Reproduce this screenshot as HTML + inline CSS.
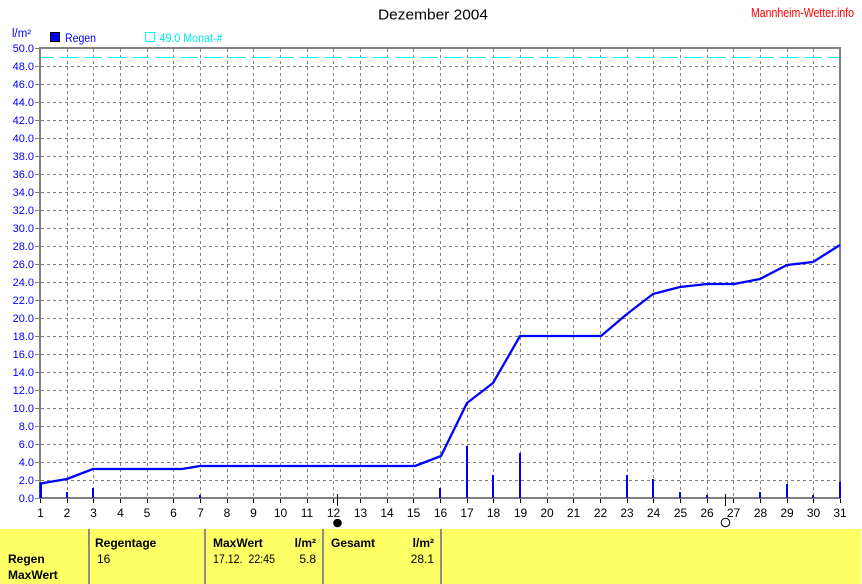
<!DOCTYPE html>
<html><head><meta charset="utf-8"><style>
html,body{margin:0;padding:0;background:#fff;}
svg{display:block;font-family:"Liberation Sans",Arial,sans-serif;}
</style></head><body>
<svg width="862" height="584" viewBox="0 0 862 584" xmlns="http://www.w3.org/2000/svg">
<rect x="0" y="0" width="862" height="584" fill="#fff"/>
<!-- title -->
<text x="378" y="19.5" font-size="15" fill="#000" textLength="110" lengthAdjust="spacingAndGlyphs">Dezember 2004</text>
<text x="751" y="17" font-size="13" fill="#ff0000" textLength="103" lengthAdjust="spacingAndGlyphs">Mannheim-Wetter.info</text>
<!-- legend -->
<text x="12" y="37" font-size="11.5" fill="#0000ff" textLength="19" lengthAdjust="spacingAndGlyphs">l/m²</text>
<rect x="50.5" y="32.5" width="9" height="9" fill="#0000ff" stroke="#000" stroke-width="1"/>
<text x="65" y="42" font-size="12" fill="#0000ff" textLength="31" lengthAdjust="spacingAndGlyphs">Regen</text>
<rect x="145.5" y="32.5" width="9" height="9" fill="none" stroke="#00ffff" stroke-width="1"/>
<text x="159.5" y="42" font-size="12" fill="#00e8e8" textLength="63" lengthAdjust="spacingAndGlyphs">49.0 Monat-#</text>

<!-- grid -->
<g stroke="#808080" stroke-width="1" stroke-dasharray="3,3" fill="none">
<path d="M41 66.5H839M41 84.5H839M41 102.5H839M41 120.5H839M41 138.5H839M41 156.5H839M41 174.5H839M41 192.5H839M41 210.5H839M41 228.5H839M41 246.5H839M41 264.5H839M41 282.5H839M41 300.5H839M41 318.5H839M41 336.5H839M41 354.5H839M41 372.5H839M41 390.5H839M41 408.5H839M41 426.5H839M41 444.5H839M41 462.5H839M41 480.5H839"/>
<path d="M67.5 49V497M93.5 49V497M120.5 49V497M147.5 49V497M173.5 49V497M200.5 49V497M227.5 49V497M253.5 49V497M280.5 49V497M307.5 49V497M333.5 49V497M360.5 49V497M387.5 49V497M413.5 49V497M440.5 49V497M467.5 49V497M493.5 49V497M520.5 49V497M547.5 49V497M573.5 49V497M600.5 49V497M627.5 49V497M653.5 49V497M680.5 49V497M707.5 49V497M733.5 49V497M760.5 49V497M787.5 49V497M813.5 49V497"/>
</g>
<!-- y ticks -->
<path d="M35 48.5H39M35 66.5H39M35 84.5H39M35 102.5H39M35 120.5H39M35 138.5H39M35 156.5H39M35 174.5H39M35 192.5H39M35 210.5H39M35 228.5H39M35 246.5H39M35 264.5H39M35 282.5H39M35 300.5H39M35 318.5H39M35 336.5H39M35 354.5H39M35 372.5H39M35 390.5H39M35 408.5H39M35 426.5H39M35 444.5H39M35 462.5H39M35 480.5H39M35 498.5H39" stroke="#808080" stroke-width="1"/>
<!-- x ticks -->
<path d="M40.5 499V503M67.5 499V503M93.5 499V503M120.5 499V503M147.5 499V503M173.5 499V503M200.5 499V503M227.5 499V503M253.5 499V503M280.5 499V503M307.5 499V503M333.5 499V503M360.5 499V503M387.5 499V503M413.5 499V503M440.5 499V503M467.5 499V503M493.5 499V503M520.5 499V503M547.5 499V503M573.5 499V503M600.5 499V503M627.5 499V503M653.5 499V503M680.5 499V503M707.5 499V503M733.5 499V503M760.5 499V503M787.5 499V503M813.5 499V503M840.5 499V503" stroke="#000" stroke-width="1"/>

<!-- monthly 49.0 line -->
<line x1="41" y1="57.5" x2="839" y2="57.5" stroke="#00ffff" stroke-width="1" stroke-dasharray="18,6" stroke-dashoffset="5"/>

<!-- frame -->
<rect x="39" y="47" width="802" height="2" fill="#808080"/>
<rect x="39" y="47" width="2" height="452" fill="#808080"/>
<rect x="839" y="47" width="2" height="452" fill="#808080"/>
<rect x="39" y="497" width="802" height="2" fill="#808080"/>

<!-- y labels -->
<g font-size="11" fill="#0000ff" text-anchor="end">
<text x="34" y="52">50.0</text><text x="34" y="70">48.0</text><text x="34" y="88">46.0</text><text x="34" y="106">44.0</text><text x="34" y="124">42.0</text><text x="34" y="142">40.0</text><text x="34" y="160">38.0</text><text x="34" y="178">36.0</text><text x="34" y="196">34.0</text><text x="34" y="214">32.0</text><text x="34" y="232">30.0</text><text x="34" y="250">28.0</text><text x="34" y="268">26.0</text><text x="34" y="286">24.0</text><text x="34" y="304">22.0</text><text x="34" y="322">20.0</text><text x="34" y="340">18.0</text><text x="34" y="358">16.0</text><text x="34" y="376">14.0</text><text x="34" y="394">12.0</text><text x="34" y="412">10.0</text><text x="34" y="430">8.0</text><text x="34" y="448">6.0</text><text x="34" y="466">4.0</text><text x="34" y="484">2.0</text><text x="34" y="502">0.0</text>
</g>
<!-- x labels -->
<g font-size="12" fill="#000" text-anchor="middle">
<text x="40.5" y="517">1</text><text x="67" y="517">2</text><text x="93.5" y="517">3</text><text x="120.5" y="517">4</text><text x="147" y="517">5</text><text x="173.5" y="517">6</text><text x="200.5" y="517">7</text><text x="227" y="517">8</text><text x="253.5" y="517">9</text><text x="280.5" y="517">10</text><text x="307" y="517">11</text><text x="333.5" y="517">12</text><text x="360.5" y="517">13</text><text x="387" y="517">14</text><text x="413.5" y="517">15</text><text x="440.5" y="517">16</text><text x="467" y="517">17</text><text x="493.5" y="517">18</text><text x="520.5" y="517">19</text><text x="547" y="517">20</text><text x="573.5" y="517">21</text><text x="600.5" y="517">22</text><text x="627" y="517">23</text><text x="653.5" y="517">24</text><text x="680.5" y="517">25</text><text x="707" y="517">26</text><text x="733.5" y="517">27</text><text x="760.5" y="517">28</text><text x="787" y="517">29</text><text x="813.5" y="517">30</text><text x="840" y="517">31</text>
</g>

<!-- daily bars -->
<g fill="#0000ff">
<rect x="40" y="484" width="2" height="14"/>
<rect x="66" y="492" width="2" height="6"/>
<rect x="92" y="488" width="2" height="10"/>
<rect x="199" y="495" width="2" height="3"/>
<rect x="439" y="488" width="2" height="10"/>
<rect x="466" y="446" width="2" height="52"/>
<rect x="492" y="475" width="2" height="23"/>
<rect x="519" y="453" width="2" height="45"/>
<rect x="626" y="475" width="2" height="23"/>
<rect x="652" y="479" width="2" height="19"/>
<rect x="679" y="492" width="2" height="6"/>
<rect x="706" y="495" width="2" height="3"/>
<rect x="759" y="492" width="2" height="6"/>
<rect x="786" y="484" width="2" height="14"/>
<rect x="812" y="495" width="2" height="3"/>
<rect x="839" y="482" width="2" height="16"/>
</g>

<!-- cumulative line -->
<polyline fill="none" stroke="#0000ff" stroke-width="2.3" stroke-linejoin="round" points="40.5,498 40.5,483.5 67,479 93,469 182,469 200,466 415,466 441,456 467,403 493,383 520,336 601,336 627,314 653,294 680,287 707,284 734,284 760,279 787,265 813,262 840,245"/>

<!-- moon phases -->
<line x1="337.5" y1="494" x2="337.5" y2="506" stroke="#000" stroke-width="1"/>
<circle cx="337.5" cy="523" r="4.3" fill="#000"/>
<line x1="725.5" y1="494" x2="725.5" y2="506" stroke="#000" stroke-width="1"/>
<circle cx="725.5" cy="522.5" r="4.3" fill="none" stroke="#000" stroke-width="1"/>

<!-- table -->
<rect x="0" y="529" width="861" height="55" fill="#ffff66"/>
<rect x="88" y="529" width="2" height="55" fill="#8c8c8c"/>
<rect x="204" y="529" width="2" height="55" fill="#8c8c8c"/>
<rect x="322" y="529" width="2" height="55" fill="#8c8c8c"/>
<rect x="440" y="529" width="2" height="55" fill="#8c8c8c"/>
<g font-size="12" fill="#000">
<text x="8" y="563" font-weight="bold">Regen</text>
<text x="8" y="579" font-weight="bold">MaxWert</text>
<text x="95" y="547" font-weight="bold">Regentage</text>
<text x="97" y="563">16</text>
<text x="213" y="547" font-weight="bold">MaxWert</text>
<text x="316" y="547" font-weight="bold" text-anchor="end">l/m²</text>
<text x="213" y="563" textLength="62" lengthAdjust="spacingAndGlyphs" xml:space="preserve">17.12.  22:45</text>
<text x="316" y="563" text-anchor="end">5.8</text>
<text x="331" y="547" font-weight="bold">Gesamt</text>
<text x="434" y="547" font-weight="bold" text-anchor="end">l/m²</text>
<text x="434" y="563" text-anchor="end">28.1</text>
</g>
</svg>
</body></html>
